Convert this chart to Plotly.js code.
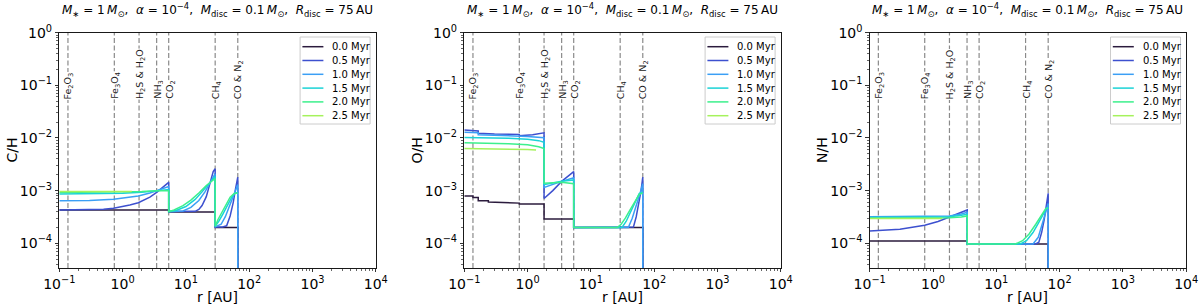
<!DOCTYPE html>
<html><head><meta charset="utf-8">
<script src="https://cdn.plot.ly/plotly-3.0.1.min.js"></script>
<style>html,body{margin:0;padding:0;background:#fff}#chart{width:1200px;height:308px}</style>
</head><body><div id="chart"></div>
<script>
// ---------------- data ----------------
const seriesNames = ['0.0 Myr', '0.5 Myr', '1.0 Myr', '1.5 Myr', '2.0 Myr', '2.5 Myr'];
const iceLines = [0.137, 0.74, 1.82, 3.45, 5.35, 29, 66];
const iceLabels = ['Fe<sub>2</sub>O<sub>3</sub>', 'Fe<sub>3</sub>O<sub>4</sub>', 'H<sub>2</sub>S\u00a0&\u00a0H<sub>2</sub>O',
  'NH<sub>3</sub>', 'CO<sub>2</sub>', 'CH<sub>4</sub>', 'CO\u00a0&\u00a0N<sub>2</sub>'];
const panelYLabels = ['C/H', 'O/H', 'N/H'];
const xTickVals = [0.1, 1, 10, 100, 1000, 10000];
const xTickText = ['10<sup>\u22121</sup>', '10<sup>0</sup>', '10<sup>1</sup>', '10<sup>2</sup>', '10<sup>3</sup>', '10<sup>4</sup>'];
const yTickVals = [1e-4, 1e-3, 1e-2, 1e-1, 1];
const yTickText = ['10<sup>\u22124</sup>', '10<sup>\u22123</sup>', '10<sup>\u22122</sup>', '10<sup>\u22121</sup>', '10<sup>0</sup>'];

// C/H
const r_CH_00 = [0.1, 5.35, 5.35, 29, 29, 66, 66];
const CH_00 = [4.3e-4, 4.3e-4, 3.95e-4, 3.95e-4, 2.0e-4, 2.0e-4, 1e-8];
const r_CH_05 = [0.1, 0.3, 0.5, 0.72, 1.0, 1.3, 1.77, 2.2, 2.7, 3.45, 4.2, 5.35, 5.35, 10, 14, 16, 18, 21, 24, 27, 29, 29, 38, 44, 50, 56, 61, 66, 66];
const CH_05 = [4.3e-4, 4.35e-4, 4.45e-4, 4.65e-4, 4.95e-4, 5.35e-4, 5.9e-4, 6.6e-4, 7.5e-4, 9.3e-4, 1.15e-3, 1.44e-3,
  4.0e-4, 4.0e-4, 4.05e-4, 4.4e-4, 5.2e-4, 7.7e-4, 1.4e-3, 2.3e-3, 2.6e-3,
  2.05e-4, 2.05e-4, 2.15e-4, 3.3e-4, 6.0e-4, 1.1e-3, 1.8e-3, 1e-8];
const r_CH_10 = [0.1, 0.3, 0.72, 1.2, 1.77, 2.7, 3.45, 4.3, 5.35, 5.35, 9, 12, 16, 20, 24, 29, 29, 36, 42, 50, 58, 66, 66];
const CH_10 = [6.4e-4, 6.5e-4, 6.9e-4, 7.4e-4, 7.9e-4, 9.0e-4, 1.0e-3, 1.1e-3, 1.2e-3,
  4.0e-4, 4.1e-4, 4.8e-4, 6.5e-4, 9.5e-4, 1.45e-3, 2.1e-3,
  2.05e-4, 2.3e-4, 3.2e-4, 5.5e-4, 9.0e-4, 1.3e-3, 1e-8];
const r_CH_15 = [0.1, 0.5, 1.0, 2.0, 3.45, 5.35, 5.35, 7, 10, 14, 18, 23, 29, 29, 33, 38, 45, 53, 60, 66];
const CH_15 = [8.6e-4, 8.7e-4, 8.9e-4, 9.3e-4, 9.9e-4, 1.05e-3,
  4.0e-4, 4.2e-4, 5.0e-4, 6.8e-4, 9.5e-4, 1.35e-3, 1.85e-3,
  2.1e-4, 2.6e-4, 3.5e-4, 5.2e-4, 7.5e-4, 9.0e-4, 9.2e-4];
const r_CH_20 = [0.1, 1.0, 2.0, 3.45, 5.35, 5.35, 6.5, 9, 12, 16, 21, 29, 29, 32, 36, 42, 50, 58, 66];
const CH_20 = [9.2e-4, 9.3e-4, 9.6e-4, 9.9e-4, 1.0e-3,
  4.0e-4, 4.3e-4, 5.2e-4, 6.6e-4, 9.0e-4, 1.25e-3, 1.7e-3,
  2.1e-4, 2.8e-4, 3.7e-4, 5.2e-4, 7.5e-4, 8.8e-4, 9.0e-4];
const r_CH_25 = [0.1, 0.6, 1.4];
const CH_25 = [9.6e-4, 9.6e-4, 9.6e-4];

// O/H
const r_OH_00 = [0.1, 0.137, 0.137, 0.166, 0.166, 0.24, 0.24, 0.74, 0.74, 1.82, 1.82, 5.35, 5.35, 66, 66];
const OH_00 = [7.9e-4, 7.9e-4, 7.4e-4, 7.4e-4, 6.4e-4, 6.4e-4, 6.1e-4, 5.8e-4, 5.6e-4, 5.6e-4, 2.9e-4, 2.9e-4, 2.0e-4, 2.0e-4, 1e-8];
const r_OH_05 = [0.1, 0.137, 0.166, 0.166, 0.3, 0.74, 0.74, 1.2, 1.82, 1.82, 2.5, 3.45, 4.3, 5.35, 5.35, 40, 47, 52, 57, 62, 66, 66];
const OH_05 = [1.42e-2, 1.40e-2, 1.36e-2, 1.23e-2, 1.19e-2, 1.17e-2, 1.10e-2, 1.15e-2, 1.25e-2,
  7.1e-4, 1.0e-3, 1.5e-3, 1.9e-3, 2.3e-3,
  2.0e-4, 2.0e-4, 2.05e-4, 3.2e-4, 5.5e-4, 1.0e-3, 1.8e-3, 1e-8];
const r_OH_10 = [0.1, 0.166, 0.166, 0.5, 1.0, 1.82, 1.82, 3.45, 5.35, 5.35, 39, 45, 52, 60, 66, 66];
const OH_10 = [1.28e-2, 1.26e-2, 1.15e-2, 1.12e-2, 1.07e-2, 1.01e-2,
  1.15e-3, 1.5e-3, 1.75e-3,
  2.0e-4, 2.0e-4, 3.0e-4, 5.0e-4, 9.0e-4, 1.35e-3, 1e-8];
const r_OH_15 = [0.1, 0.5, 1.0, 1.5, 1.82, 1.82, 3.45, 5.35, 5.35, 31, 36, 42, 50, 58, 62, 66];
const OH_15 = [1.02e-2, 9.9e-3, 9.4e-3, 8.9e-3, 8.3e-3,
  1.3e-3, 1.5e-3, 1.6e-3,
  2.0e-4, 2.0e-4, 2.6e-4, 3.8e-4, 6.2e-4, 8.8e-4, 9.2e-4, 9.3e-4];
const r_OH_20 = [0.1, 0.5, 1.0, 1.5, 1.82, 1.82, 3.45, 5.35, 5.35, 26, 30, 35, 42, 50, 58, 66];
const OH_20 = [8.1e-3, 7.8e-3, 7.4e-3, 6.8e-3, 6.3e-3,
  1.38e-3, 1.45e-3, 1.35e-3,
  2.0e-4, 2.0e-4, 2.3e-4, 3.0e-4, 4.4e-4, 6.5e-4, 8.5e-4, 9.0e-4];
const r_OH_25 = [0.1, 0.5, 1.0, 1.36];
const OH_25 = [6.3e-3, 6.2e-3, 6.05e-3, 5.9e-3];

// N/H
const r_NH_00 = [0.1, 3.48, 3.48, 66, 66];
const NH_00 = [1.11e-4, 1.11e-4, 9.7e-5, 9.7e-5, 1e-8];
const r_NH_05 = [0.1, 0.3, 0.74, 1.2, 1.82, 2.6, 3.3, 3.48, 3.48, 42, 47, 52, 57, 62, 66, 66];
const NH_05 = [1.72e-4, 1.85e-4, 2.2e-4, 2.6e-4, 3.15e-4, 3.8e-4, 4.25e-4, 4.3e-4,
  9.7e-5, 9.7e-5, 1.05e-4, 1.6e-4, 2.8e-4, 5.0e-4, 8.9e-4, 1e-8];
const r_NH_10 = [0.1, 1.0, 1.82, 2.8, 3.48, 3.48, 38, 46, 53, 60, 66, 66];
const NH_10 = [3.2e-4, 3.2e-4, 3.3e-4, 3.6e-4, 3.9e-4, 9.7e-5, 9.7e-5, 1.3e-4, 2.2e-4, 3.8e-4, 5.7e-4, 1e-8];
const r_NH_15 = [0.1, 1.0, 1.82, 2.8, 3.48, 3.48, 24, 30, 38, 46, 55, 62, 66];
const NH_15 = [3.1e-4, 3.1e-4, 3.2e-4, 3.4e-4, 3.55e-4, 9.7e-5, 9.7e-5, 1.12e-4, 1.6e-4, 2.4e-4, 3.6e-4, 4.6e-4, 4.8e-4];
const r_NH_20 = [0.1, 1.0, 1.82, 2.8, 3.48, 3.48, 20, 26, 33, 42, 52, 60, 66];
const NH_20 = [3.0e-4, 3.0e-4, 3.05e-4, 3.15e-4, 3.3e-4, 9.7e-5, 9.7e-5, 1.12e-4, 1.5e-4, 2.3e-4, 3.5e-4, 4.5e-4, 4.7e-4];
const r_NH_25 = [0.1, 0.6, 1.4];
const NH_25 = [2.95e-4, 2.95e-4, 2.95e-4];

// ---------------- styles ----------------
const seriesColors = ['#2b1b3d', '#3d50cf', '#3b9ff5', '#1ad3d6', '#3cf08c', '#a5f25c'];
const FONT = 'DejaVu Sans, Liberation Sans, sans-serif';
const W = 1200, H = 308;
const plotTopPx = 32.6, plotBotPx = 268;
const panelLeftPx = [59.3, 464.3, 869.7];
const panelWidthPx = 316.5;

const panels = [
  {r: [r_CH_00, r_CH_05, r_CH_10, r_CH_15, r_CH_20, r_CH_25], v: [CH_00, CH_05, CH_10, CH_15, CH_20, CH_25]},
  {r: [r_OH_00, r_OH_05, r_OH_10, r_OH_15, r_OH_20, r_OH_25], v: [OH_00, OH_05, OH_10, OH_15, OH_20, OH_25]},
  {r: [r_NH_00, r_NH_05, r_NH_10, r_NH_15, r_NH_20, r_NH_25], v: [NH_00, NH_05, NH_10, NH_15, NH_20, NH_25]}
];

function minorVals(lo, hi) {
  const v = [];
  for (let e = lo; e < hi; e++) for (let k = 2; k < 10; k++) v.push(k * Math.pow(10, e));
  return v;
}

const traces = [];
const shapes = [];
const annotations = [];
const layout = {
  width: W, height: H,
  margin: {l: 0, r: 0, t: 0, b: 0},
  paper_bgcolor: '#fff', plot_bgcolor: '#fff',
  showlegend: false,
  font: {family: FONT, color: '#000'}
};

const titleText = '<i>M</i><sub>\u2217</sub> = 1\u2009<i>M</i><sub>\u2299</sub>,\u00a0\u00a0<i>\u03b1</i> = 10<sup>\u22124</sup>,\u00a0\u00a0<i>M</i><sub>disc</sub> = 0.1\u2009<i>M</i><sub>\u2299</sub>,\u00a0\u00a0<i>R</i><sub>disc</sub> = 75\u2009AU';

panels.forEach((p, i) => {
  const sfx = i === 0 ? '' : String(i + 1);
  const xa = 'x' + sfx, ya = 'y' + sfx;
  const x0 = panelLeftPx[i] / W, x1 = (panelLeftPx[i] + panelWidthPx) / W;
  const axCommon = {
    type: 'log', showgrid: false, zeroline: false,
    showline: true, mirror: true, linecolor: '#000', linewidth: 0.9,
    ticks: 'outside', ticklen: 3.5, tickwidth: 0.8, tickcolor: '#000',
    tickmode: 'array',
    tickfont: {family: FONT, size: 14, color: '#000'}
  };
  layout['xaxis' + sfx] = Object.assign({}, axCommon, {
    domain: [x0, x1], anchor: ya, range: [-1, 4],
    tickvals: xTickVals, ticktext: xTickText,
    minor: {tickmode: 'array', tickvals: minorVals(-1, 4), ticks: 'outside', ticklen: 2, tickwidth: 0.6, tickcolor: '#000', showgrid: false}
  });
  layout['yaxis' + sfx] = Object.assign({}, axCommon, {
    domain: [(H - plotBotPx) / H, (H - plotTopPx) / H], anchor: xa, range: [Math.log10(3.4e-5), 0],
    tickvals: yTickVals, ticktext: yTickText,
    minor: {tickmode: 'array', tickvals: minorVals(-5, 0), ticks: 'outside', ticklen: 2, tickwidth: 0.6, tickcolor: '#000', showgrid: false}
  });

  // ice lines
  iceLines.forEach((r, k) => {
    shapes.push({type: 'line', xref: xa, yref: ya + ' domain', x0: r, x1: r, y0: 0, y1: 1,
      line: {color: '#8a8a8a', width: 1.2, dash: '5px,2.5px'}, layer: 'below'});
    annotations.push({xref: xa, yref: ya + ' domain', x: Math.log10(r), y: (plotBotPx - 100) / (plotBotPx - plotTopPx),
      xanchor: 'center', yanchor: 'bottom', xshift: 1, textangle: -90, showarrow: false,
      text: iceLabels[k], bgcolor: '#fff', borderpad: 0,
      font: {family: FONT, size: 9.5, color: '#1a1a1a'}});
  });

  // series
  p.r.forEach((rr, s) => {
    traces.push({type: 'scatter', mode: 'lines', x: rr, y: p.v[s], xaxis: xa, yaxis: ya,
      name: seriesNames[s], line: {color: seriesColors[s], width: 1.5}, hoverinfo: 'skip'});
  });

  // title
  annotations.push({xref: xa + ' domain', yref: 'paper', x: 0.5, y: (H - 10) / H, xanchor: 'center', yanchor: 'middle',
    showarrow: false, text: titleText, font: {family: FONT, size: 12, color: '#000'}});
  // axis titles
  annotations.push({xref: xa + ' domain', yref: 'paper', x: 0.5, y: (H - 296.5) / H, xanchor: 'center', yanchor: 'middle',
    showarrow: false, text: 'r [AU]', font: {family: FONT, size: 14, color: '#000'}});
  annotations.push({xref: xa + ' domain', yref: ya + ' domain', x: 0, y: 0.5, xshift: -47, xanchor: 'center', yanchor: 'middle',
    textangle: -90, showarrow: false, text: panelYLabels[i], font: {family: FONT, size: 14, color: '#000'}});

  // legend (box, samples, labels)
  shapes.push({type: 'rect', xref: xa + ' domain', yref: ya + ' domain', xsizemode: 'pixel', ysizemode: 'pixel',
    xanchor: 1, yanchor: 1, x0: -75.7, x1: -5.7, y0: -4.4, y1: -91.4,
    line: {color: '#cccccc', width: 1}, fillcolor: 'rgba(255,255,255,0.85)', layer: 'above'});
  seriesNames.forEach((nm, s) => {
    const yo = -14.1 - 13.8 * s;
    shapes.push({type: 'line', xref: xa + ' domain', yref: ya + ' domain', xsizemode: 'pixel', ysizemode: 'pixel',
      xanchor: 1, yanchor: 1, x0: -73.4, x1: -52.4, y0: yo, y1: yo,
      line: {color: seriesColors[s], width: 1.5}, layer: 'above'});
    annotations.push({xref: xa + ' domain', yref: ya + ' domain', x: 1, y: 1, xshift: -45.7, yshift: yo,
      xanchor: 'left', yanchor: 'middle', showarrow: false, text: nm,
      font: {family: FONT, size: 10, color: '#000'}});
  });
});

layout.shapes = shapes;
layout.annotations = annotations;
Plotly.newPlot('chart', traces, layout, {staticPlot: true, displayModeBar: false});
</script></body></html>
